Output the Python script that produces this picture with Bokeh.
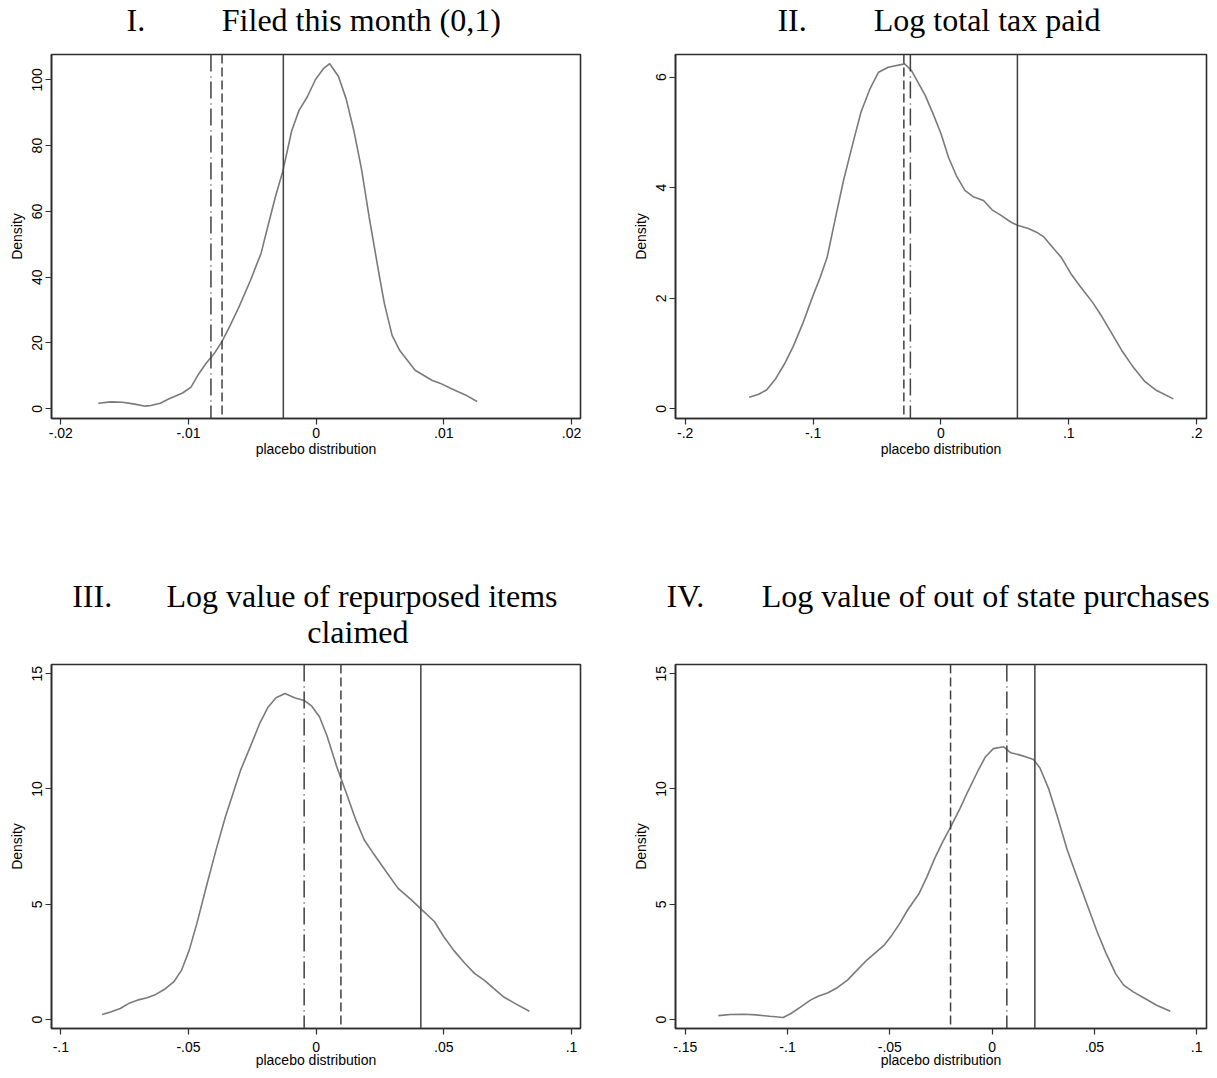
from bokeh.plotting import figure
from bokeh.layouts import column, row
from bokeh.models import FixedTicker, Range1d, Label, Span
from bokeh.embed import file_html
from bokeh.resources import INLINE

# ---------------- data ----------------
numerals = ["I.", "II.", "III.", "IV."]
titles = ["Filed this month (0,1)", "Log total tax paid",
          "Log value of repurposed items", "Log value of out of state purchases"]
titles_line2 = ["", "", "claimed", ""]
x_label = "placebo distribution"
y_label = "Density"

# Panel I
i_x = [-0.01706, -0.0161, -0.0152, -0.0143, -0.0134, -0.01295, -0.0122, -0.0116, -0.01046,
       -0.0098, -0.0092, -0.0086, -0.0080, -0.0074, -0.0068, -0.00605, -0.00515, -0.00431,
       -0.0038, -0.0032, -0.0026, -0.00191, -0.00134, -0.00071, -0.00005, 0.00055, 0.00106,
       0.00175, 0.00235, 0.00295, 0.00355, 0.00415, 0.0049, 0.00535, 0.00595, 0.00655,
       0.00775, 0.0091, 0.0097, 0.0106, 0.01165, 0.01261]
i_y = [1.7, 2.1, 2.0, 1.5, 0.8, 1.0, 1.7, 2.9, 4.8, 6.6, 10.6, 13.9, 16.7, 20.3, 24.8, 30.9,
       39.0, 47.3, 55.2, 64.3, 72.4, 84.6, 90.7, 94.7, 100.1, 103.3, 104.9, 101.0, 94.2, 84.6,
       72.9, 58.3, 41.5, 31.9, 22.3, 17.7, 11.7, 8.6, 7.8, 6.1, 4.3, 2.2]
i_solid, i_dash, i_longdash = -0.00257, -0.00737, -0.00824
i_xticks = [-0.02, -0.01, 0, 0.01, 0.02]
i_xlabels = ["-.02", "-.01", "0", ".01", ".02"]
i_yticks = [0, 20, 40, 60, 80, 100]

# Panel II
ii_x = [-0.150, -0.143, -0.1364, -0.1294, -0.1224, -0.1157, -0.1081, -0.1005, -0.0944, -0.0890,
        -0.0829, -0.0762, -0.0686, -0.0625, -0.0555, -0.0488, -0.0412, -0.0284, -0.0230,
        -0.0123, -0.0062, 0.0, 0.0059, 0.0120, 0.0187, 0.0257, 0.0333, 0.0400, 0.0470, 0.0546,
        0.0598, 0.0683, 0.0744, 0.0805, 0.0881, 0.0941, 0.1018, 0.1094, 0.1185, 0.1261, 0.1337,
        0.1413, 0.1505, 0.1596, 0.1687, 0.1818]
ii_y = [0.21, 0.26, 0.34, 0.54, 0.81, 1.12, 1.54, 2.02, 2.38, 2.74, 3.41, 4.13, 4.83, 5.37,
        5.79, 6.09, 6.18, 6.24, 6.12, 5.67, 5.34, 4.98, 4.55, 4.22, 3.95, 3.83, 3.77, 3.60,
        3.50, 3.38, 3.32, 3.26, 3.20, 3.11, 2.90, 2.74, 2.44, 2.20, 1.93, 1.66, 1.36, 1.06,
        0.75, 0.49, 0.33, 0.18]
ii_solid, ii_dash, ii_longdash = 0.0598, -0.0290, -0.0239
ii_xticks = [-0.2, -0.1, 0, 0.1, 0.2]
ii_xlabels = ["-.2", "-.1", "0", ".1", ".2"]
ii_yticks = [0, 2, 4, 6]

# Panel III
iii_x = [-0.0838, -0.0805, -0.0767, -0.0730, -0.0700, -0.0662, -0.0628, -0.0595, -0.0557,
         -0.0527, -0.0497, -0.0467, -0.0430, -0.0392, -0.0355, -0.0325, -0.0295, -0.0257,
         -0.0220, -0.0190, -0.0157, -0.0122, -0.0085, -0.0047, -0.0017, 0.0013, 0.0043,
         0.0080, 0.0118, 0.0155, 0.0188, 0.0223, 0.0260, 0.0320, 0.0373, 0.0410, 0.0463,
         0.0500, 0.0538, 0.0583, 0.0620, 0.0658, 0.0695, 0.0733, 0.0778, 0.0835]
iii_y = [0.22, 0.33, 0.48, 0.72, 0.84, 0.94, 1.09, 1.30, 1.64, 2.14, 3.01, 4.17, 5.77, 7.36,
         8.81, 9.83, 10.84, 11.86, 12.87, 13.52, 13.96, 14.14, 13.96, 13.84, 13.59, 13.13,
         12.29, 10.99, 9.83, 8.67, 7.80, 7.22, 6.64, 5.70, 5.19, 4.80, 4.25, 3.59, 3.01,
         2.43, 2.00, 1.71, 1.35, 0.99, 0.70, 0.36]
iii_solid, iii_dash, iii_longdash = 0.0410, 0.0097, -0.0047
iii_xticks = [-0.1, -0.05, 0, 0.05, 0.1]
iii_xlabels = ["-.1", "-.05", "0", ".05", ".1"]
iii_yticks = [0, 5, 10, 15]

# Panel IV
iv_x = [-0.1338, -0.1278, -0.1211, -0.1154, -0.1087, -0.1021, -0.0983, -0.0935, -0.0888,
        -0.0850, -0.0802, -0.0755, -0.0707, -0.0660, -0.0612, -0.0574, -0.0527, -0.0489,
        -0.0451, -0.0413, -0.0356, -0.0318, -0.0280, -0.0241, -0.0203, -0.0156, -0.0118,
        -0.0070, -0.0033, 0.0006, 0.0057, 0.0091, 0.0129, 0.0167, 0.0202, 0.0234, 0.0278,
        0.0319, 0.0367, 0.0414, 0.0462, 0.0510, 0.0557, 0.0605, 0.0643, 0.0690, 0.0747,
        0.0804, 0.0871]
iv_y = [0.17, 0.22, 0.23, 0.20, 0.14, 0.09, 0.26, 0.55, 0.84, 1.01, 1.16, 1.39, 1.71, 2.14,
        2.58, 2.87, 3.23, 3.67, 4.17, 4.75, 5.48, 6.20, 7.00, 7.72, 8.35, 9.17, 9.90, 10.77,
        11.39, 11.75, 11.83, 11.57, 11.49, 11.39, 11.28, 10.91, 9.97, 8.81, 7.36, 6.20, 5.04,
        3.88, 2.87, 1.97, 1.49, 1.20, 0.91, 0.62, 0.36]
iv_solid, iv_dash, iv_longdash = 0.0209, -0.0203, 0.0072
iv_xticks = [-0.15, -0.1, -0.05, 0, 0.05, 0.1]
iv_xlabels = ["-.15", "-.1", "-.05", "0", ".05", ".1"]
iv_yticks = [0, 5, 10, 15]

# ---------------- styling helpers ----------------
FRAME_H = 364
AX = "#2e2e2e"
CURVE = "#7a7a7a"
REF = "#404040"
COL_W = [628, 589]


def make_panel(xs, ys, solid, dash, longdash, xr, yr, xticks, xlabels, yticks, col, rw):
    left = 51 if col == 0 else 47
    fw = 529 if col == 0 else 531
    right = COL_W[col] - left - fw
    top = 4
    bottom = 96 if rw == 0 else 42
    p = figure(width=left + fw + right, height=top + FRAME_H + bottom,
               x_range=Range1d(*xr), y_range=Range1d(*yr),
               min_border_left=left, min_border_right=right,
               min_border_top=top, min_border_bottom=bottom,
               output_backend="svg", toolbar_location=None)
    p.xgrid.visible = False
    p.ygrid.visible = False
    p.outline_line_color = AX
    p.outline_line_width = 1.6
    p.outline_line_alpha = 1.0
    p.background_fill_color = "white"
    p.border_fill_color = "white"

    for ax in (p.xaxis[0], p.yaxis[0]):
        ax.axis_line_color = AX
        ax.axis_line_width = 1.6
        ax.major_tick_line_color = AX
        ax.major_tick_line_width = 1.2
        ax.major_tick_out = 6
        ax.major_tick_in = 0
        ax.minor_tick_line_color = None
        ax.major_label_text_font = "Liberation Sans"
        ax.major_label_text_font_size = "14px"
        ax.major_label_text_color = "black"
        ax.major_label_standoff = 3
        ax.axis_label_text_font = "Liberation Sans"
        ax.axis_label_text_font_size = "14px"
        ax.axis_label_text_font_style = "normal"
        ax.axis_label_text_color = "black"

    p.xaxis.ticker = FixedTicker(ticks=xticks)
    p.xaxis.major_label_overrides = {t: s for t, s in zip(xticks, xlabels)}
    p.xaxis.major_label_standoff = 3 if rw == 0 else 7
    p.xaxis.axis_label = x_label
    p.xaxis.axis_label_standoff = 0 if rw == 0 else -3
    p.yaxis.ticker = FixedTicker(ticks=yticks)
    p.yaxis.major_label_orientation = "vertical"
    p.yaxis.axis_label = y_label
    p.yaxis.axis_label_standoff = 5

    p.line(xs, ys, line_color=CURVE, line_width=1.6)

    p.add_layout(Span(location=longdash, dimension="height", line_color=REF,
                      line_width=1.5, line_dash="17 5 1 4"))
    p.add_layout(Span(location=dash, dimension="height", line_color=REF,
                      line_width=1.5, line_dash="9 4"))
    p.add_layout(Span(location=solid, dimension="height", line_color=REF,
                      line_width=1.5))
    return p


def title_fig(width, height, items):
    t = figure(width=width, height=height, x_range=Range1d(0, 1), y_range=Range1d(0, 1),
               min_border=0, x_axis_location=None, y_axis_location=None,
               output_backend="svg", toolbar_location=None)
    t.xgrid.visible = False
    t.ygrid.visible = False
    t.outline_line_color = None
    t.background_fill_color = "white"
    t.border_fill_color = "white"
    for (x, y, txt) in items:
        t.add_layout(Label(x=x, y=y, x_units="screen", y_units="screen", text=txt,
                           text_font="Liberation Serif", text_font_size="32px",
                           text_baseline="bottom", text_color="black"))
    return t


T1_H = 50
T2_H = 146
t1 = title_fig(COL_W[0], T1_H, [(126, 13, numerals[0]), (221.3, 13, titles[0])])
t2 = title_fig(COL_W[1], T1_H, [(148.9, 13, numerals[1]), (245.3, 13, titles[1])])
t3 = title_fig(COL_W[0], T2_H, [(71.7, 46.7, numerals[2]), (166, 46.7, titles[2]),
                                (306.7, 11, titles_line2[2])])
t4 = title_fig(COL_W[1], T2_H, [(38, 46.7, numerals[3]), (133.3, 46.7, titles[3])])

p1 = make_panel(i_x, i_y, i_solid, i_dash, i_longdash, (-0.020728, 0.020705),
                (-2.95, 107.69), i_xticks, i_xlabels, i_yticks, 0, 0)
p2 = make_panel(ii_x, ii_y, ii_solid, ii_dash, ii_longdash, (-0.2076, 0.2077),
                (-0.1755, 6.41), ii_xticks, ii_xlabels, ii_yticks, 1, 0)
p3 = make_panel(iii_x, iii_y, iii_solid, iii_dash, iii_longdash, (-0.10364, 0.10352),
                (-0.39, 15.40), iii_xticks, iii_xlabels, iii_yticks, 0, 1)
p4 = make_panel(iv_x, iv_y, iv_solid, iv_dash, iv_longdash, (-0.15474, 0.10479),
                (-0.39, 15.40), iv_xticks, iv_xlabels, iv_yticks, 1, 1)

layout = column(row(t1, t2), row(p1, p2), row(t3, t4), row(p3, p4))
open("out.html", "w").write(file_html(layout, INLINE))
